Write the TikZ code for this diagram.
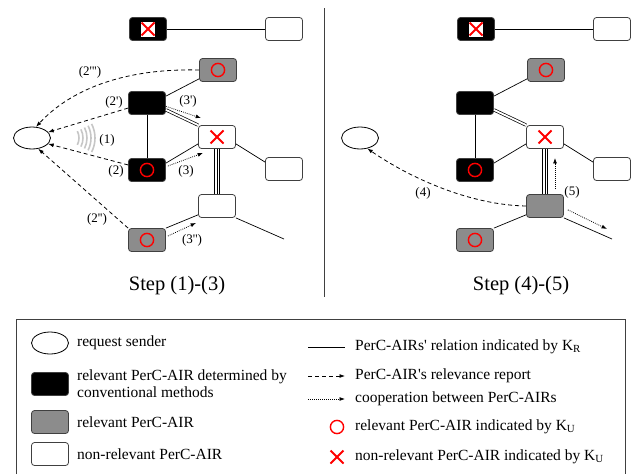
\documentclass[tikz,border=0pt]{standalone}
\usepackage{fontspec}
\setmainfont{Liberation Serif}
\usetikzlibrary{arrows.meta, shapes.geometric}

\definecolor{relgray}{gray}{0.55}
\definecolor{rimgray}{gray}{0.25}

\tikzset{
    air/.style={draw=rimgray, line width=0.8pt, rounded corners=3pt, minimum width=37pt, minimum height=23pt, inner sep=0pt},
    conv/.style={air, fill=black},
    rel/.style={air, fill=relgray},
    nrel/.style={air, fill=white},
    sender/.style={draw, ellipse, line width=0.8pt, minimum width=37pt, minimum height=22pt, inner sep=0pt},
    relation/.style={line width=0.7pt},
    report/.style={line width=0.8pt, dash pattern=on 4pt off 3pt, -{Latex[length=5.5pt, width=4pt]}},
    coop/.style={line width=0.8pt, dash pattern=on 0.8pt off 1.2pt, -{Latex[length=5.5pt, width=4pt]}},
    okmark/.style={red, line width=1.4pt},
    nokmark/.style={red, line width=1.8pt},
    lbl/.style={font=\fontsize{13}{15}\selectfont, inner sep=0pt},
    legtext/.style={font=\fontsize{15.5}{17}\selectfont, anchor=west, align=left, inner sep=0pt},
    steptext/.style={font=\fontsize{20.5}{24}\selectfont, inner sep=0pt}
}
\newcommand{\sq}{\textquotesingle}

\begin{document}
\begin{tikzpicture}[x=1pt, y=-1pt]
    \useasboundingbox (0,0) rectangle (634,474);

    % the same PerC-AIR network in both steps
    \foreach \p/\dx/\lowstyle in {a/0/nrel, b/328/rel} {
        \begin{scope}[xshift=\dx pt]
            \node[conv] (\p-ctop) at (148,29) {};
            \node[nrel] (\p-ntop) at (284,29) {};
            \node[rel]  (\p-gtop) at (218,70) {};
            \node[conv] (\p-cup)  at (147,103) {};
            \node[nrel] (\p-x)    at (217,137) {};
            \node[conv] (\p-cdn)  at (147,170) {};
            \node[nrel] (\p-nrt)  at (284,169) {};
            \node[\lowstyle] (\p-low) at (217,206) {};
            \node[rel]  (\p-gbot) at (147,240) {};
            \node[sender] (\p-snd) at (32,138) {};
            \coordinate (\p-end) at (284,239);

            % relations K_R
            \draw[relation] (\p-ctop) -- (\p-ntop);
            \draw[relation] (\p-cup.20) -- (\p-gtop.205);
            \draw[relation] (\p-cup) -- (\p-cdn);
            \draw[relation, double, double distance=1.8pt] (\p-cup.-20) -- (\p-x.north west);
            \draw[relation] (\p-cdn.20) -- (\p-x.200);
            \draw[relation] (\p-x.-20) -- (\p-nrt.160);
            \draw[relation, double, double distance=3.8pt] (\p-x.south) -- (\p-low.north);
            \draw[relation] (\p-x.south) -- (\p-low.north);
            \draw[relation] (\p-gbot.north east) -- (\p-low.205);
            \draw[relation] (\p-low.south east) -- (\p-end);

            % marks K_U
            \fill[white] ([shift={(-7,-7.5)}]\p-ctop.center) rectangle ([shift={(7,7.5)}]\p-ctop.center);
            \foreach \n in {ctop, x} {
                \draw[nokmark] ([shift={(-6.5,-6.5)}]\p-\n.center) -- ([shift={(6.5,6.5)}]\p-\n.center);
                \draw[nokmark] ([shift={(-6.5,6.5)}]\p-\n.center) -- ([shift={(6.5,-6.5)}]\p-\n.center);
            }
            \foreach \n in {gtop, cdn, gbot}
                \draw[okmark] (\p-\n.center) circle (6.6pt);
        \end{scope}
    }

    % step (1)-(3)
    \coordinate (sig) at (64,138);
    \foreach \r in {15,19,23,27,31}
        \draw[gray!45, line width=1.6pt] ([shift={(-27:\r pt)}]sig) arc[start angle=-27, end angle=27, radius=\r pt];
    \draw[report] (a-gtop.west) .. controls (120,68) and (68,92) .. (a-snd.70);
    \draw[report] (a-cup.195) -- (a-snd.20);
    \draw[report] (a-cdn.165) -- (a-snd.-20);
    \draw[report] (a-gbot.north west) -- (a-snd.-60);
    \draw[coop] (a-cup.-10) -- ([shift={(3,-7)}]a-x.north west);
    \draw[coop] ([shift={(2,-4)}]a-cdn.east) -- ([shift={(5,4)}]a-x.south west);
    \draw[coop] ([shift={(2,-4)}]a-gbot.east) -- ([shift={(-2,5)}]a-low.south west);

    \node[lbl] (l2c) at (90,72) {(2\sq\sq\sq)};
    \node[lbl] (l2a) at (114,102) {(2\sq)};
    \node[lbl] (l1)  at (107,140) {(1)};
    \node[lbl] (l2)  at (116,171) {(2)};
    \node[lbl] (l2b) at (97,219) {(2\sq\sq)};
    \node[lbl] (l3a) at (188,101) {(3\sq)};
    \node[lbl] (l3)  at (186,171) {(3)};
    \node[lbl] (l3b) at (192,240) {(3\sq\sq)};

    % step (4)-(5)
    \draw[report] (b-low.west) .. controls (470,205) and (410,178) .. (b-snd.-55);
    \draw[coop] ([shift={(10,-5)}]b-low.north) -- ([shift={(10,9)}]b-x.south);
    \draw[coop] ([shift={(4,-8)}]b-low.south east) -- ([shift={(-5,-10)}]b-end);
    \node[lbl] (l4) at (423,193) {(4)};
    \node[lbl] (l5) at (572,192) {(5)};

    \node[steptext] (stepa) at (177,286) {Step (1)-(3)};
    \node[steptext] (stepb) at (521,286) {Step (4)-(5)};
    \draw[rimgray, line width=1pt] (324,8) -- (324,297);

    % legend
    \draw[rimgray, line width=0.9pt] (16,474) -- (16,319) -- (625,319) -- (625,474);
    \node[sender] (lg-snd) at (50,343) {};
    \node[conv] (lg-conv) at (50,384) {};
    \node[rel]  (lg-rel)  at (50,422) {};
    \node[nrel] (lg-nrel) at (50,454) {};
    \node[legtext] (lt-snd)  at (77,343) {request sender};
    \node[legtext] (lt-conv) at (77,384) {relevant PerC-AIR determined by\\conventional methods};
    \node[legtext] (lt-rel)  at (77,422) {relevant PerC-AIR};
    \node[legtext] (lt-nrel) at (77,454) {non-relevant PerC-AIR};

    \coordinate (lk-rel) at (308,347);
    \coordinate (lk-rep) at (308,376);
    \coordinate (lk-coop) at (308,399);
    \coordinate (lk-ok) at (337,427);
    \coordinate (lk-nok) at (337,457);
    \draw[relation] (lk-rel) -- ++(37,0);
    \draw[report] (lk-rep) -- ++(37,0);
    \draw[coop] (lk-coop) -- ++(37,0);
    \draw[okmark] (lk-ok) circle (6.6pt);
    \draw[nokmark] ([shift={(-6.5,-6.5)}]lk-nok) -- ([shift={(6.5,6.5)}]lk-nok);
    \draw[nokmark] ([shift={(-6.5,6.5)}]lk-nok) -- ([shift={(6.5,-6.5)}]lk-nok);
    \node[legtext] (lt-rel2) at (355,347) {PerC-AIRs\sq{} relation indicated by K\textsubscript{R}};
    \node[legtext] (lt-rep)  at (355,376) {PerC-AIR\sq{}s relevance report};
    \node[legtext] (lt-coop) at (355,399) {cooperation between PerC-AIRs};
    \node[legtext] (lt-ok)   at (355,427) {relevant PerC-AIR indicated by K\textsubscript{U}};
    \node[legtext] (lt-nok)  at (355,457) {non-relevant PerC-AIR indicated by K\textsubscript{U}};
\end{tikzpicture}
\end{document}
